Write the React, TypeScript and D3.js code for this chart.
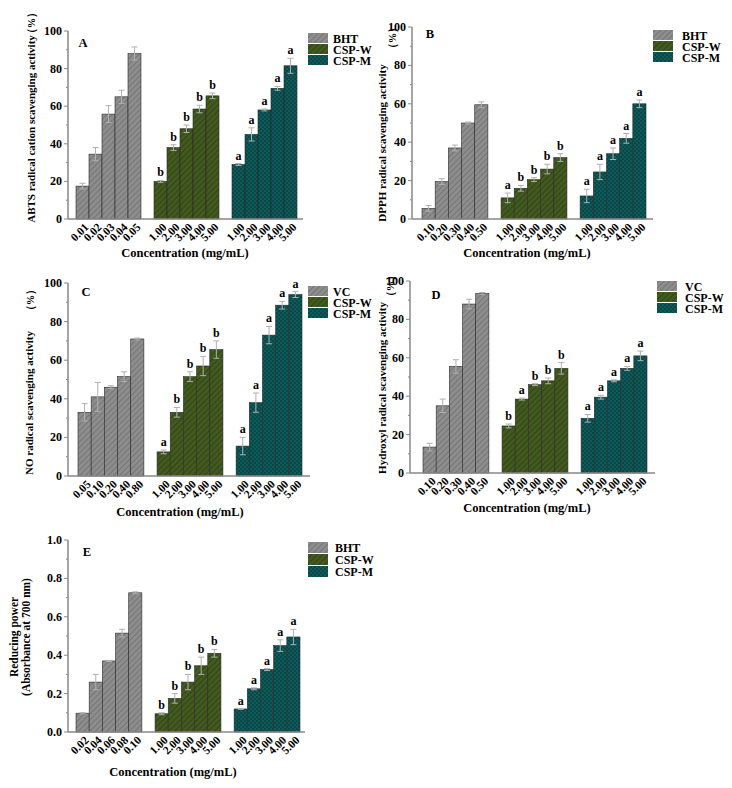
import React from "react";
import * as d3 from "d3";

const groupNames = ["std", "CSP-W", "CSP-M"];

const A_labels = [["0.01", "0.02", "0.03", "0.04", "0.05"], ["1.00", "2.00", "3.00", "4.00", "5.00"], ["1.00", "2.00", "3.00", "4.00", "5.00"]];
const A_values = [[17.5, 34.5, 55.8, 65, 88], [20, 38, 48, 58.5, 65.5], [29, 45, 58, 69.5, 81.5]];
const A_errors = [[1.5, 3.5, 4.5, 3.5, 3.5], [0.5, 1.5, 2, 2, 1.5], [0.5, 3.5, 0.5, 1, 4]];
const A_letters = [["", "", "", "", ""], ["b", "b", "b", "b", "b"], ["a", "a", "a", "a", "a"]];

const B_labels = [["0.10", "0.20", "0.30", "0.40", "0.50"], ["1.00", "2.00", "3.00", "4.00", "5.00"], ["1.00", "2.00", "3.00", "4.00", "5.00"]];
const B_values = [[5.5, 19.5, 37, 50, 59.5], [11, 16, 20.5, 26, 32], [12, 24.5, 34, 42, 60]];
const B_errors = [[1.5, 1.5, 1.5, 0.5, 1.5], [2.5, 1.5, 1, 2.5, 2], [3.5, 4, 3, 2.5, 2]];
const B_letters = [["", "", "", "", ""], ["a", "b", "b", "b", "b"], ["a", "a", "a", "a", "a"]];

const C_labels = [["0.05", "0.10", "0.20", "0.40", "0.80"], ["1.00", "2.00", "3.00", "4.00", "5.00"], ["1.00", "2.00", "3.00", "4.00", "5.00"]];
const C_values = [[33, 41, 46, 51.5, 71], [12.5, 33, 51.5, 57, 65.5], [15.5, 38, 73, 88.5, 94]];
const C_errors = [[4.5, 7.5, 0.8, 2.5, 0.5], [1, 2.5, 2.5, 5, 4.5], [4.5, 5, 4.5, 2, 1.5]];
const C_letters = [["", "", "", "", ""], ["a", "b", "b", "b", "b"], ["a", "a", "a", "a", "a"]];

const D_labels = [["0.10", "0.20", "0.30", "0.40", "0.50"], ["1.00", "2.00", "3.00", "4.00", "5.00"], ["1.00", "2.00", "3.00", "4.00", "5.00"]];
const D_values = [[13.5, 35, 55.5, 88, 93.5], [24.5, 38.5, 46, 48, 54.5], [28.5, 39.5, 48, 54.5, 61]];
const D_errors = [[2, 3.5, 3.5, 2.5, 0.5], [1, 0.5, 0.5, 1.5, 3], [2, 1, 0.5, 1, 2.5]];
const D_letters = [["", "", "", "", ""], ["b", "a", "b", "b", "b"], ["a", "a", "a", "a", "a"]];

const E_labels = [["0.02", "0.04", "0.06", "0.08", "0.10"], ["1.00", "2.00", "3.00", "4.00", "5.00"], ["1.00", "2.00", "3.00", "4.00", "5.00"]];
const E_values = [[0.098, 0.26, 0.37, 0.515, 0.725], [0.095, 0.175, 0.26, 0.345, 0.41], [0.12, 0.225, 0.325, 0.45, 0.495]];
const E_errors = [[0.003, 0.04, 0.003, 0.02, 0.005], [0.005, 0.025, 0.04, 0.045, 0.02], [0.002, 0.005, 0.005, 0.03, 0.04]];
const E_letters = [["", "", "", "", ""], ["b", "b", "b", "b", "b"], ["a", "a", "a", "a", "a"]];

const pctTicks = [0, 20, 40, 60, 80, 100];
const pctMinor = [10, 30, 50, 70, 90];
const absTicks = [0, 0.2, 0.4, 0.6, 0.8, 1.0];
const absMinor = [0.1, 0.3, 0.5, 0.7, 0.9];

const FONT = "'Liberation Serif', 'Times New Roman', serif";
const fills = ["url(#pGray)", "url(#pGreen)", "url(#pTeal)"];

type PanelProps = {
  letter: string;
  labels: string[][];
  values: number[][];
  errors: number[][];
  letters: string[][];
  std: string;
  yMax: number;
  ticks: number[];
  minor: number[];
  fmt: (v: number) => string;
  axisX: number;
  barX0: number;
  barX1: number;
  axisEnd: number;
  yTop: number;
  y0: number;
  letterPos: [number, number];
  yTitle: React.ReactNode;
  xTitlePos: [number, number];
  legendPos: [number, number, number, number];
};

function Panel(p: PanelProps) {
  const slots = d3.range(17);
  const x = d3.scaleBand<number>().domain(slots).range([p.barX0, p.barX1]).paddingInner(0);
  const y = d3.scaleLinear().domain([0, p.yMax]).range([p.y0, p.yTop]);
  const bw = x.bandwidth();
  const bars: React.ReactNode[] = [];
  const errs: React.ReactNode[] = [];
  const texts: React.ReactNode[] = [];
  p.values.forEach((g, gi) => {
    g.forEach((v, i) => {
      const slot = gi * 6 + i;
      const bx = x(slot)!;
      const cx = bx + bw / 2;
      const top = y(v);
      const e = p.errors[gi][i];
      bars.push(
        <rect key={`b${gi}-${i}`} x={bx} y={top} width={bw} height={p.y0 - top} fill={fills[gi]} stroke="#2a2a2a" strokeWidth={0.6} />
      );
      errs.push(
        <g key={`e${gi}-${i}`} stroke="#b0b0b0" strokeWidth={1}>
          <line x1={cx} x2={cx} y1={y(v - e)} y2={y(v + e)} />
          <line x1={cx - 3} x2={cx + 3} y1={y(v + e)} y2={y(v + e)} />
          <line x1={cx - 3} x2={cx + 3} y1={y(v - e)} y2={y(v - e)} />
        </g>
      );
      if (p.letters[gi][i]) {
        texts.push(
          <text key={`l${gi}-${i}`} x={cx} y={y(v + e) - 4} textAnchor="middle" fontSize={12} fontWeight="bold" fontFamily={FONT}>
            {p.letters[gi][i]}
          </text>
        );
      }
      texts.push(
        <text key={`t${gi}-${i}`} transform={`translate(${cx + 5},${p.y0 + 7}) rotate(-45)`} textAnchor="end" dominantBaseline="middle" fontSize={11.5} fontWeight="bold" fontFamily={FONT}>
          {p.labels[gi][i]}
        </text>
      );
    });
  });
  const legendNames = [p.std, "CSP-W", "CSP-M"];
  const [lx, ly, ltx, step] = p.legendPos;
  return (
    <g>
      {bars}
      {errs}
      <line x1={p.axisX} x2={p.axisX} y1={p.yTop} y2={p.y0} stroke="#888" strokeWidth={1.5} />
      <line x1={p.axisX} x2={p.axisEnd} y1={p.y0} y2={p.y0} stroke="#888" strokeWidth={1.5} />
      {p.ticks.map((t) => (
        <g key={`yt${t}`}>
          <line x1={p.axisX - 4} x2={p.axisX} y1={y(t)} y2={y(t)} stroke="#888" strokeWidth={1} />
          <text x={p.axisX - 6} y={y(t)} textAnchor="end" dominantBaseline="central" fontSize={12} fontWeight="bold" fontFamily={FONT}>
            {p.fmt(t)}
          </text>
        </g>
      ))}
      {p.minor.map((t) => (
        <line key={`ym${t}`} x1={p.axisX - 2} x2={p.axisX} y1={y(t)} y2={y(t)} stroke="#888" strokeWidth={1} />
      ))}
      {texts}
      <text x={p.letterPos[0]} y={p.letterPos[1]} textAnchor="middle" dominantBaseline="central" fontSize={12.5} fontWeight="bold" fontFamily={FONT}>
        {p.letter}
      </text>
      {p.yTitle}
      <text x={p.xTitlePos[0]} y={p.xTitlePos[1]} textAnchor="middle" dominantBaseline="central" fontSize={12.5} fontWeight="bold" fontFamily={FONT}>
        Concentration (mg/mL)
      </text>
      {groupNames.map((_, gi) => (
        <g key={`lg${gi}`}>
          <rect x={lx} y={ly + gi * step} width={20} height={step - 1} fill={fills[gi]} />
          <text x={ltx} y={ly + gi * step + step / 2} dominantBaseline="central" fontSize={12} fontWeight="bold" fontFamily={FONT}>
            {legendNames[gi]}
          </text>
        </g>
      ))}
    </g>
  );
}

function YTitle({ x, yc, text, px, pctY }: { x: number; yc: number; text: string; px: number; pctY: number }) {
  return (
    <g>
      <text transform={`translate(${x},${yc}) rotate(-90)`} textAnchor="middle" dominantBaseline="central" fontSize={11} fontWeight="bold" fontFamily={FONT}>
        {text}
      </text>
      <text transform={`translate(${px},${pctY}) rotate(-90)`} textAnchor="middle" dominantBaseline="central" fontSize={10.5} fontWeight="bold" fontFamily={FONT}>
        （%）
      </text>
    </g>
  );
}

const pct = (v: number) => String(v);
const abs = (v: number) => v.toFixed(1);

export default function App() {
  return (
    <svg width={732} height={788} viewBox="0 0 732 788" style={{ position: "absolute", left: 0, top: 0, background: "#fff" }}>
      <defs>
        <pattern id="pGray" patternUnits="userSpaceOnUse" width={4} height={4} patternTransform="rotate(45)">
          <rect width={4} height={4} fill="#8d8d8d" />
          <line x1={0} y1={0} x2={0} y2={4} stroke="#6f6f6f" strokeWidth={1.6} />
        </pattern>
        <pattern id="pGreen" patternUnits="userSpaceOnUse" width={4} height={4} patternTransform="rotate(45)">
          <rect width={4} height={4} fill="#42591f" />
          <line x1={0} y1={0} x2={0} y2={4} stroke="#2c3f12" strokeWidth={1.6} />
        </pattern>
        <pattern id="pTeal" patternUnits="userSpaceOnUse" width={4} height={4}>
          <rect width={4} height={4} fill="#0f5a5a" />
          <rect x={0} y={0} width={2} height={2} fill="#0a4747" />
          <rect x={2} y={2} width={2} height={2} fill="#0a4747" />
        </pattern>
      </defs>
      <Panel
        letter="A" labels={A_labels} values={A_values} errors={A_errors} letters={A_letters} std="BHT"
        yMax={100} ticks={pctTicks} minor={pctMinor} fmt={pct}
        axisX={68} barX0={76} barX1={297} axisEnd={303} yTop={31} y0={219}
        letterPos={[83, 43]}
        yTitle={<YTitle x={31} yc={129} text="ABTS radical cation scavenging activity" px={31} pctY={23} />}
        xTitlePos={[185, 253]} legendPos={[308, 33, 333, 11]}
      />
      <Panel
        letter="B" labels={B_labels} values={B_values} errors={B_errors} letters={B_letters} std="BHT"
        yMax={100} ticks={pctTicks} minor={pctMinor} fmt={pct}
        axisX={412} barX0={422} barX1={646} axisEnd={653} yTop={27} y0={219}
        letterPos={[430, 34]}
        yTitle={<YTitle x={382} yc={143} text="DPPH radical scavenging activity" px={392} pctY={38} />}
        xTitlePos={[527, 253]} legendPos={[653, 30, 682, 11]}
      />
      <Panel
        letter="C" labels={C_labels} values={C_values} errors={C_errors} letters={C_letters} std="VC"
        yMax={100} ticks={pctTicks} minor={pctMinor} fmt={pct}
        axisX={68} barX0={78} barX1={302} axisEnd={310} yTop={283} y0={476}
        letterPos={[86, 292]}
        yTitle={<YTitle x={29} yc={403} text="NO radical scavenging activity" px={30} pctY={300} />}
        xTitlePos={[180, 512]} legendPos={[308, 286, 333, 11]}
      />
      <Panel
        letter="D" labels={D_labels} values={D_values} errors={D_errors} letters={D_letters} std="VC"
        yMax={100} ticks={pctTicks} minor={pctMinor} fmt={pct}
        axisX={410} barX0={423} barX1={647} axisEnd={655} yTop={281} y0={473}
        letterPos={[436, 295]}
        yTitle={<YTitle x={382} yc={388} text="Hydroxyl radical scavenging activity" px={390} pctY={286} />}
        xTitlePos={[527, 508]} legendPos={[657, 281, 685, 11]}
      />
      <Panel
        letter="E" labels={E_labels} values={E_values} errors={E_errors} letters={E_letters} std="BHT"
        yMax={1.0} ticks={absTicks} minor={absMinor} fmt={abs}
        axisX={68} barX0={76} barX1={300} axisEnd={305} yTop={540} y0={732}
        letterPos={[87, 552]}
        yTitle={
          <g>
            <text transform="translate(14,637) rotate(-90)" textAnchor="middle" dominantBaseline="central" fontSize={11.5} fontWeight="bold" fontFamily={FONT}>Reducing power</text>
            <text transform="translate(26,637) rotate(-90)" textAnchor="middle" dominantBaseline="central" fontSize={11.5} fontWeight="bold" fontFamily={FONT}>(Absorbance at 700 nm)</text>
          </g>
        }
        xTitlePos={[173, 772]} legendPos={[308, 542, 335, 12]}
      />
    </svg>
  );
}
